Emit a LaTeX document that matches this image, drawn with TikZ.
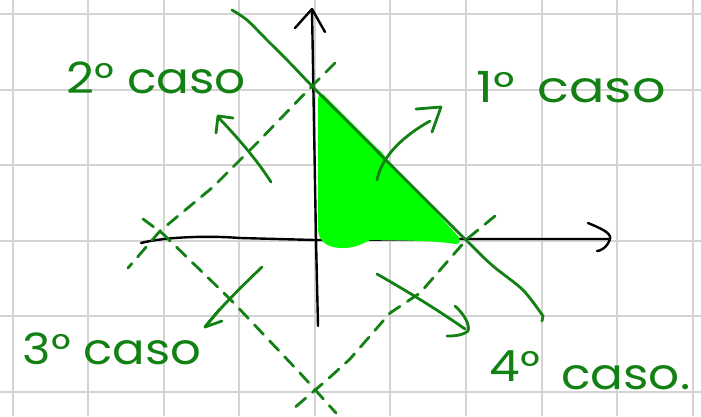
\documentclass[tikz,border=0pt]{standalone}
\usepackage{fontspec}
\setmainfont{Poppins}
\definecolor{pen}{RGB}{18,128,18}
\definecolor{hilite}{RGB}{0,255,0}
\definecolor{gridc}{RGB}{212,212,212}
\tikzset{
  penline/.style={draw=pen,line width=2.8pt,line cap=round,line join=round},
  dashline/.style={penline,dash pattern=on 13pt off 9pt},
  axisline/.style={draw=black,line width=2.4pt,line cap=round,line join=round},
  label/.style={text=pen,font=\fontsize{43}{43}\selectfont,inner sep=0pt,anchor=center},
}
\begin{document}
\begin{tikzpicture}[x=1pt,y=-1pt]
\useasboundingbox (0,0) rectangle (701,416);
\fill[white] (0,0) rectangle (701,416);
% grid
\foreach \k in {0,...,9}{\draw[gridc,line width=2pt] ({12.7+75.55*\k},0) -- ({12.7+75.55*\k},416);}
\foreach \k in {0,...,5}{\draw[gridc,line width=2pt] (0,{14+75.5*\k}) -- (701,{14+75.5*\k});}
% axes
\coordinate (O) at (315,240);
\coordinate (ytip) at (312,9);
\coordinate (xtip) at (610,239);
\draw[axisline] (318,326) -- (316,240) -- (ytip);
\draw[axisline] (295,28) -- (ytip) -- (325,32);
\draw[axisline] (141,243) .. controls (160,238) and (200,235) .. (240,238) -- (O) -- (460,239) -- (xtip);
\draw[axisline] (588,223) .. controls (600,228) and (612,233) .. (xtip) .. controls (607,248) and (600,251) .. (597,251);
% green region
\fill[hilite] (318,98) .. controls (319,93) and (323,93) .. (326,97)
  -- (378,149) .. controls (382,152) and (384,155) .. (386,158)
  -- (456,234) .. controls (462,240) and (460,245) .. (455,244)
  .. controls (440,241) and (400,240) .. (370,240)
  .. controls (362,244) and (355,248) .. (343,248)
  .. controls (325,248) and (318,240) .. (318,228) -- cycle;
% solid diagonal
\draw[penline] plot[smooth] coordinates {(232,10) (247,20) (267,40) (290,63) (312,86) (350,124) (466,240) (493,266) (523,290) (543,316)} -- (542,321);
% dashed diamond sides
\draw[dashline] (335,63) -- (312,86) -- (257,143) -- (213,187) -- (160,231) -- (128,268);
\draw[dashline] (143,219) -- (162,233) -- (230,299) -- (300,373) -- (336,413);
\draw[dashline] (495,216) -- (467,239) -- (420,293) -- (390,313) -- (350,359) -- (328,379) -- (293,409);
% direction arrows
\draw[penline] (377,180) .. controls (382,155) and (405,135) .. (430,121);
\draw[penline] (416,109) -- (441,107) -- (432,132);
\draw[penline] (271,182) .. controls (255,157) and (235,135) .. (218,117);
\draw[penline] (216,133) -- (218,116) -- (233,118);
\draw[penline] (262,267) .. controls (240,288) and (218,310) .. (205,327);
\draw[penline] (220,309) -- (205,327) -- (222,321);
\draw[penline] (377,274) .. controls (405,290) and (435,308) .. (465,329);
\draw[penline] (455,306) .. controls (465,315) and (470,325) .. (468,331) .. controls (462,336) and (452,336) .. (447,336);
% labels
\node[label] (c2) at (156,78) {\scalebox{1.13}[1]{2° caso}};
\node[label] (c1) at (571,87) {\scalebox{1.22}[1]{1°\, caso}};
\node[label] (c3) at (112,349) {\scalebox{1.12}[1]{3° caso}};
\node[label] (c4) at (590,370) {\scalebox{1.13}[1]{\raisebox{8pt}{4°}\, caso.}};
\end{tikzpicture}
\end{document}
